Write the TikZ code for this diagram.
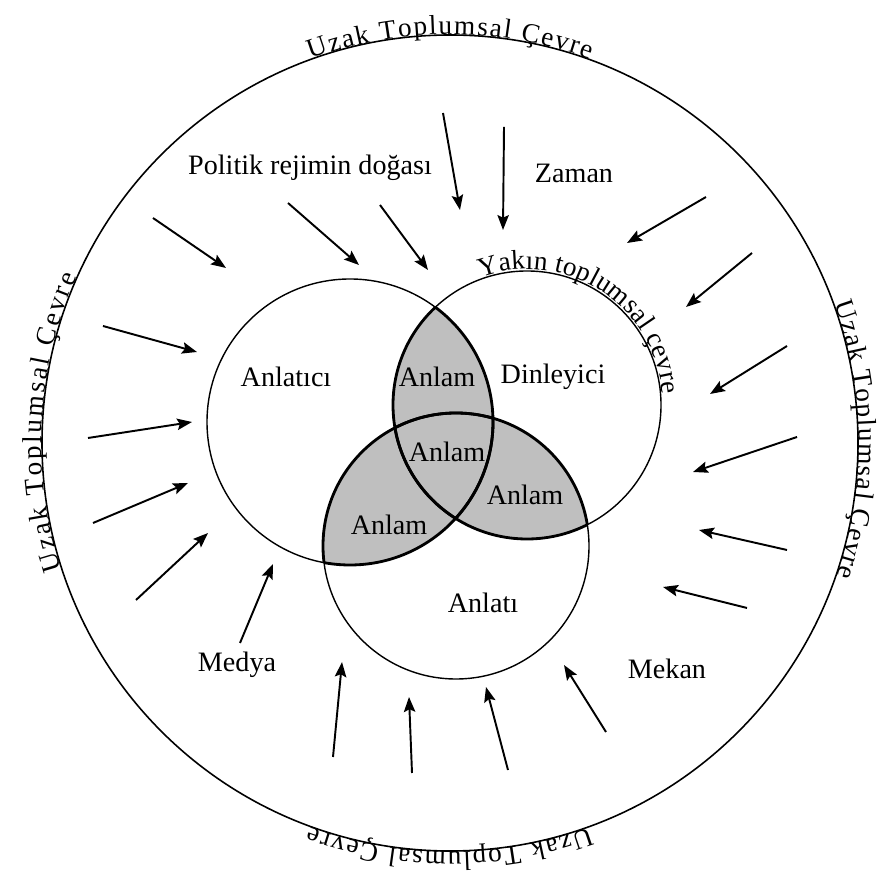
\documentclass[tikz,border=0pt]{standalone}
\usepackage{fontspec}
\setmainfont{Liberation Serif}
\usetikzlibrary{arrows.meta,decorations.text}

\begin{document}
\begin{tikzpicture}[x=0.02cm, y=0.02cm,
    every node/.style={font=\fontsize{16}{19}\selectfont, inner sep=1pt},
    ring/.style={line width=0.9pt},
    set/.style={line width=0.8pt},
    lens/.style={line width=1.6pt},
    shade/.style={fill=black!25},
    infl/.style={line width=1.1pt, -{Stealth[length=8.5pt, width=6.5pt, inset=1.5pt]}},
    ringtext/.style={decorate, decoration={text along path, raise=0.3pt,
        text align={fit to path}, text={|\fontsize{15.5}{18}\selectfont|#1}}},
    neartext/.style={decorate, decoration={text along path, raise=1pt,
        text align={left}, text={|\fontsize{15.5}{18}\selectfont|#1}}}]

% Define the radii
\def\Rout{408}
\def\rL{143}
\def\rR{134}
\def\rB{133}

\useasboundingbox (0,0) rectangle (877,885);

% Centres of the rings
\coordinate (O) at (450,442);
\coordinate (L) at (350,463);
\coordinate (R) at (527,480);
\coordinate (B) at (456,339);

% Shaded overlaps
\begin{scope}
    \clip (L) circle[radius=\rL];
    \fill[shade] (R) circle[radius=\rR];
    \fill[shade] (B) circle[radius=\rB];
\end{scope}
\begin{scope}
    \clip (R) circle[radius=\rR];
    \fill[shade] (B) circle[radius=\rB];
\end{scope}

% Outer ring and the three sets
\draw[ring] (O) circle[radius=\Rout];
\draw[set] (L) circle[radius=\rL];
\draw[set] (R) circle[radius=\rR];
\draw[set] (B) circle[radius=\rB];

% Bold edges of the overlaps
\begin{scope}
    \clip (L) circle[radius=\rL];
    \draw[lens] (R) circle[radius=\rR];
    \draw[lens] (B) circle[radius=\rB];
\end{scope}
\begin{scope}
    \clip (R) circle[radius=\rR];
    \draw[lens] (L) circle[radius=\rL];
    \draw[lens] (B) circle[radius=\rB];
\end{scope}
\begin{scope}
    \clip (B) circle[radius=\rB];
    \draw[lens] (L) circle[radius=\rL];
    \draw[lens] (R) circle[radius=\rR];
\end{scope}

% Text round the outer ring
\foreach \a/\b in {110/70, 20/-19, 290/250, 198/156} {
    \path[ringtext=Uzak Toplumsal Çevre] (O) ++(\a:\Rout) arc[start angle=\a, end angle=\b, radius=\Rout];
}

% Text round the listener ring
\path[neartext=Yakın toplumsal çevre] (R) ++(110:\rR) arc[start angle=110, end angle=-20, radius=\rR];

% Labels
\node (narrator) at (286,508) {Anlatıcı};
\node (listener) at (553,508) {Dinleyici};
\node (story) at (483,282) {Anlatı};
\node (mLR) at (437,508) {Anlam};
\node (mall) at (447,433) {Anlam};
\node (mRB) at (525,390) {Anlam};
\node (mLB) at (389,360) {Anlam};
\node (politics) at (310,717) {Politik rejimin doğası};
\node (time) at (574,712) {Zaman};
\node (media) at (237,220) {Medya};
\node (place) at (667,216) {Mekan};

% Influence arrows
\foreach \n/\sx/\sy/\ex/\ey in {
    1/153/667/226/617, 2/288/682/359/620, 3/380/680/428/615,
    4/443/772/460/675, 5/504/758/503/655, 6/706/688/627/642,
    7/752/632/686/578, 8/787/539/710/491, 9/797/448/693/413,
    10/787/335/699/355, 11/747/277/663/298, 12/606/153/564/220,
    13/508/115/486/198, 14/412/112/409/188, 15/333/128/342/223,
    16/240/242/273/321, 17/136/285/208/352, 18/93/362/188/402,
    19/88/447/192/463, 20/103/559/197/533} {
    \coordinate (s\n) at (\sx,\sy);
    \coordinate (e\n) at (\ex,\ey);
    \draw[infl] (s\n) -- (e\n);
}

\end{tikzpicture}
\end{document}
